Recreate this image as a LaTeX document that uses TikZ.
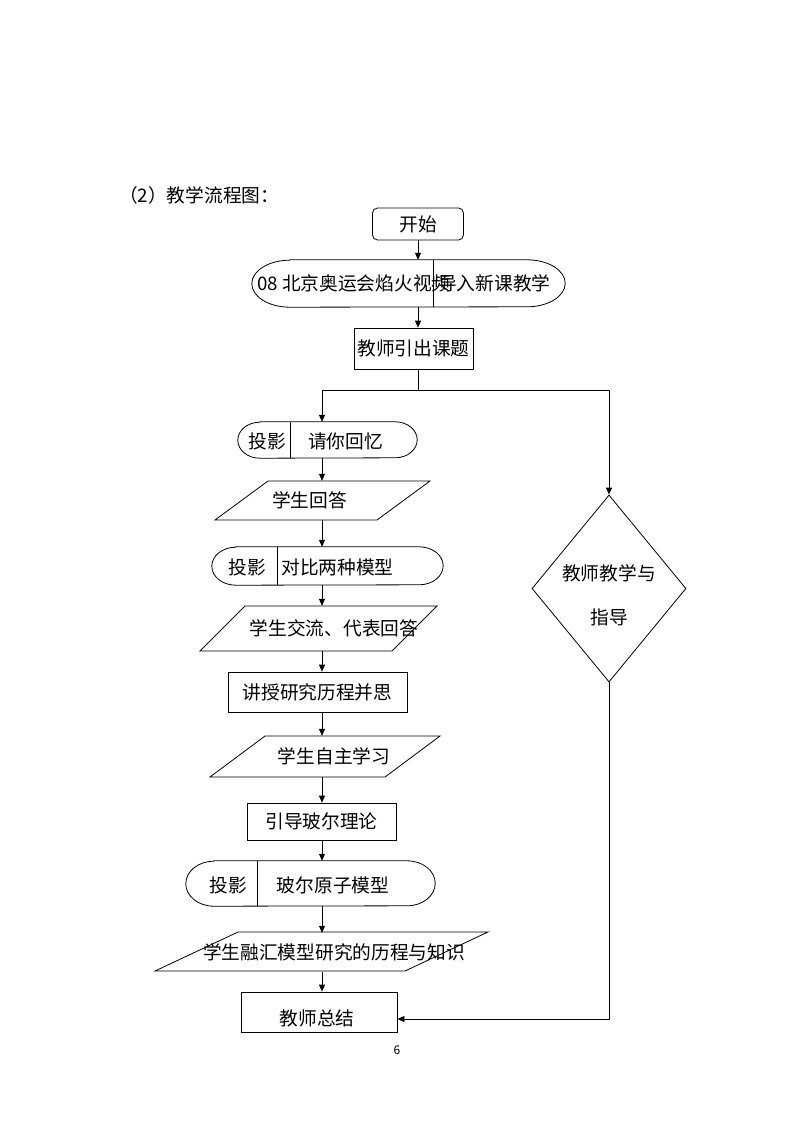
\documentclass[tikz,border=0pt]{standalone}
\usepackage{fontspec}
\setmainfont{Noto Sans CJK SC}
\usetikzlibrary{arrows.meta,shapes.geometric}
\newcommand{\stadshape}[3]{\draw[ln] ([xshift=#2]#1.north west) -- ([xshift=-#2]#1.north east) arc[start angle=90,end angle=-90,x radius=#2,y radius=#3] -- ([xshift=#2]#1.south west) arc[start angle=270,end angle=90,x radius=#2,y radius=#3] -- cycle;}
\begin{document}
\begin{tikzpicture}[x=1pt,y=-1pt,
  ln/.style={line width=0.8pt},
  arr/.style={ln,-{Triangle[length=7pt,width=6pt]}},
  txt/.style={inner sep=0pt,font=\fontsize{18.7}{22}\selectfont},
  hold/.style={inner sep=0pt,draw=none,font=\fontsize{18.7}{22}\selectfont},
  boxnode/.style={draw,ln,inner sep=0pt,font=\fontsize{18.7}{22}\selectfont}]

\useasboundingbox[fill=white] (0,0) rectangle (794,1123);

\node[txt,anchor=west] (title) at (119,195) {（2）教学流程图：};

% start
\node[boxnode,rounded corners=5pt,minimum width=91pt,minimum height=32pt] (start) at (418,224) {开始};

% video
\node[hold,minimum width=313pt,minimum height=47pt] (video) at (408.5,283.5) {};
\stadshape{video}{38pt}{23.5pt}
\draw[ln] (video.north -| 433,0) -- (video.south -| 433,0);
\node[txt,anchor=west] (videoL) at (257,283.5) {08 北京奥运会焰火视频};
\node[txt,anchor=west] (videoR) at (438,283.5) {导入新课教学};

% intro
\node[boxnode,minimum width=119pt,minimum height=41pt] (intro) at (413.5,348.5) {教师引出课题};

\coordinate (split) at (418,390);
\coordinate (col) at (322,390);

% recall
\node[hold,minimum width=179pt,minimum height=36pt] (recall) at (327.5,440) {};
\stadshape{recall}{22pt}{18pt}
\draw[ln] (recall.north -| 290,0) -- (recall.south -| 290,0);
\node[txt] (recallA) at (267.5,441) {投影};
\node[txt] (recallB) at (345.5,441) {请你回忆};

% answer
\draw[ln] (268,481) -- (430,481) -- (377,520) -- (215,520) -- cycle;
\node[hold,minimum height=39pt] (answer) at (309.5,500.5) {学生回答};

% compare
\node[hold,minimum width=231pt,minimum height=38pt] (compare) at (327.5,566) {};
\stadshape{compare}{24pt}{19pt}
\draw[ln] (compare.north -| 277,0) -- (compare.south -| 277,0);
\node[txt] (compareA) at (247.5,567) {投影};
\node[txt] (compareB) at (337.5,567) {对比两种模型};

% exchange
\draw[ln] (245,606) -- (437,606) -- (392,651) -- (200,651) -- cycle;
\node[hold,minimum height=45pt] (exchange) at (334,628.5) {学生交流、代表回答};

% lecture
\node[boxnode,minimum width=179pt,minimum height=40pt] (lecture) at (317.5,692) {讲授研究历程并思};

% self study
\draw[ln] (265,736) -- (440,736) -- (385,777) -- (210,777) -- cycle;
\node[hold,minimum height=41pt] (self) at (334,756.5) {学生自主学习};

% bohr theory
\node[boxnode,minimum width=149pt,minimum height=37pt] (bohrtheory) at (321.5,821.5) {引导玻尔理论};

% bohr model
\node[hold,minimum width=249pt,minimum height=45pt] (bohr) at (310.5,883.5) {};
\stadshape{bohr}{28pt}{22.5pt}
\draw[ln] (bohr.north -| 257,0) -- (bohr.south -| 257,0);
\node[txt] (bohrA) at (228,885) {投影};
\node[txt] (bohrB) at (333,885) {玻尔原子模型};

% merge
\draw[ln] (238,932) -- (488,932) -- (405,971) -- (155,971) -- cycle;
\node[hold,minimum height=39pt] (merge) at (334,952.5) {学生融汇模型研究的历程与知识};

% summary
\node[boxnode,minimum width=156pt,minimum height=40pt] (summary) at (319,1012) {};
\node[txt] (summaryT) at (317,1018) {教师总结};

% teacher diamond
\node[draw,ln,diamond,minimum width=154pt,minimum height=187pt,inner sep=0pt] (teach) at (609,588.5) {};
\node[txt] (teachA) at (609,573) {教师教学与};
\node[txt] (teachB) at (609,617) {指导};

% page number
\node[inner sep=0pt,font=\fontsize{12}{14}\selectfont] (pagenum) at (397,1050) {6};

% connectors
\draw[arr] (start.south) -- (start.south |- video.north);
\draw[arr] (start.south |- video.south) -- (start.south |- intro.north);
\draw[ln] (split |- intro.south) -- (split);
\draw[arr] (split) -| (recall.north -| col);
\draw[arr] (split) -| (teach.north);
\draw[arr] (recall.south -| col) -- (answer.north -| col);
\draw[arr] (answer.south -| col) -- (compare.north -| col);
\draw[arr] (compare.south -| col) -- (exchange.north -| col);
\draw[arr] (exchange.south -| col) -- (lecture.north -| col);
\draw[arr] (lecture.south -| col) -- (self.north -| col);
\draw[arr] (self.south -| col) -- (bohrtheory.north -| col);
\draw[arr] (bohrtheory.south -| col) -- (bohr.north -| col);
\draw[arr] (bohr.south -| col) -- (merge.north -| col);
\draw[arr] (merge.south -| col) -- (summary.north -| col);
\coordinate (back) at (609,1019);
\draw[arr] (teach.south) -- (back) -- (back -| summary.east);
\end{tikzpicture}
\end{document}
